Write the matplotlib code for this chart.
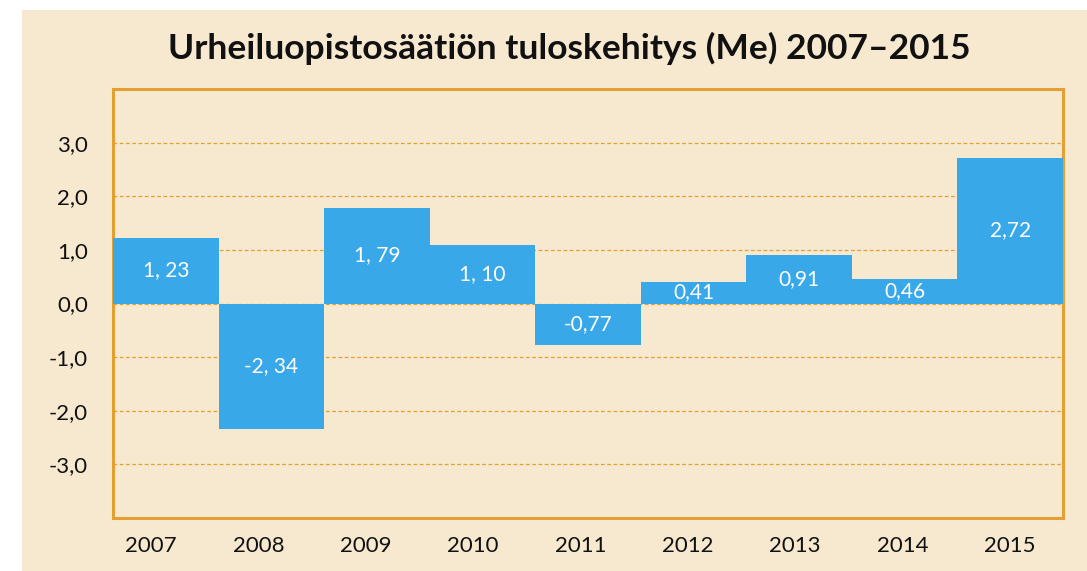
import matplotlib
matplotlib.use("Agg")
import matplotlib.pyplot as plt
from matplotlib.patches import Rectangle

years = ["2007", "2008", "2009", "2010", "2011", "2012", "2013", "2014", "2015"]
values = [1.23, -2.34, 1.79, 1.10, -0.77, 0.41, 0.91, 0.46, 2.72]
value_labels = ["1, 23", "-2, 34", "1, 79", "1, 10", "-0,77", "0,41", "0,91", "0,46", "2,72"]
yticks = [-3, -2, -1, 0, 1, 2, 3]
ytick_labels = ["-3,0", "-2,0", "-1,0", "0,0", "1,0", "2,0", "3,0"]
title = "Urheiluopistosäätiön tuloskehitys (Me) 2007–2015"

bg = "#F7E9D0"
orange = "#E3A032"
blue = "#38A8E8"

plt.rcParams['font.family'] = ['Lato', 'DejaVu Sans']

fig = plt.figure(figsize=(10.87, 5.71), dpi=100)
fig.patch.set_facecolor("white")
fig.patches.append(Rectangle((22/1087, 0), 1 - 22/1087, (571-10)/571,
                             transform=fig.transFigure, facecolor=bg,
                             edgecolor="none", zorder=-10))

ax = fig.add_axes([113/1087, 53/571, (1063-113)/1087, (518-89)/571])
ax.set_facecolor(bg)
x = list(range(len(years)))
bars = ax.bar(x, values, width=1.0, color=blue, zorder=3)
ax.set_xlim(-0.5, len(years) - 0.5)
ax.set_ylim(-4, 4)
ax.set_yticks(yticks)
ax.set_yticklabels(ytick_labels)
ax.set_xticks([])
ax.tick_params(axis='both', length=0, labelsize=16, colors="#111111")
ax.tick_params(axis='y', pad=18)
for s in ax.spines.values():
    s.set_color(orange)
    s.set_linewidth(2.2)
ax.yaxis.grid(True, color=orange, linestyle=(0, (3, 2)), linewidth=0.9, zorder=0)
ax.set_axisbelow(True)

ax.bar_label(bars, labels=value_labels, label_type='center', color="white", fontsize=15)

# category labels (slightly wider spacing than the bars, as in the original)
ax2 = ax.twiny()
ax2.xaxis.set_ticks_position('bottom')
ax2.xaxis.set_label_position('bottom')
ax2.set_xlim(-0.354, 8.494)
ax2.set_xticks(x)
ax2.set_xticklabels(years)
ax2.tick_params(axis='x', length=0, labelsize=16, colors="#111111", pad=13)
for s in ax2.spines.values():
    s.set_visible(False)

fig.text(569/1087, 1 - 48/571, title, ha="center", va="center",
         fontsize=25.5, fontweight="bold", color="#111111")

fig.savefig("out.png", dpi=100, facecolor=fig.get_facecolor())
